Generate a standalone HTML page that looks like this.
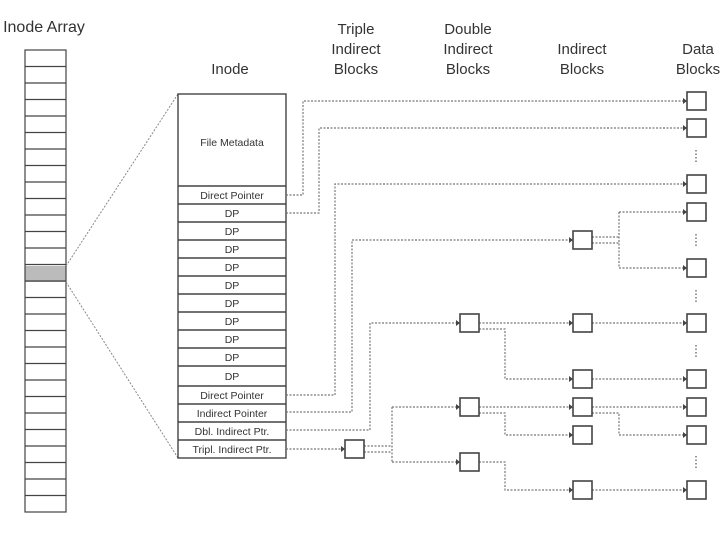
<!DOCTYPE html>
<html><head><style>body{margin:0;background:#fff}svg{display:block}</style></head><body>
<svg width="720" height="540" viewBox="0 0 720 540" xmlns="http://www.w3.org/2000/svg" font-family="Liberation Sans, sans-serif">
<rect width="720" height="540" fill="#fff"/>
<g fill="#333" font-size="15" text-anchor="middle">
<text x="44" y="32" font-size="16">Inode Array</text>
<text x="230" y="74">Inode</text>
<text x="356" y="34">Triple</text><text x="356" y="54">Indirect</text><text x="356" y="74">Blocks</text>
<text x="468" y="34">Double</text><text x="468" y="54">Indirect</text><text x="468" y="74">Blocks</text>
<text x="582" y="54">Indirect</text><text x="582" y="74">Blocks</text>
<text x="698" y="54">Data</text><text x="698" y="74">Blocks</text>
</g>
<g stroke="#444" stroke-width="1.2" fill="none">
<rect x="25" y="266" width="41" height="16" fill="#bbb" stroke="none"/>
<rect x="25" y="50" width="41" height="462"/>
<path d="M25 66.5H66M25 83H66M25 99.5H66M25 116H66M25 132.5H66M25 149H66M25 165.5H66M25 182H66M25 198.5H66M25 215H66M25 231.5H66M25 248H66M25 264.5H66M25 281H66M25 297.5H66M25 314H66M25 330.5H66M25 347H66M25 363.5H66M25 380H66M25 396.5H66M25 413H66M25 429.5H66M25 446H66M25 462.5H66M25 479H66M25 495.5H66"/>
</g>
<g stroke="#888" stroke-width="1" stroke-dasharray="2 1.5" fill="none">
<path d="M66 266L178 94M66 282L178 458"/>
</g>
<g stroke="#444" stroke-width="1.4" fill="none">
<rect x="178" y="94" width="108" height="364"/>
<path d="M178 186H286M178 204H286M178 222H286M178 240H286M178 258H286M178 276H286M178 294H286M178 312H286M178 330H286M178 348H286M178 366H286M178 386H286M178 404H286M178 422H286M178 440H286"/>
</g>
<g fill="#333" font-size="10.5" text-anchor="middle">
<text x="232" y="146">File Metadata</text>
<text x="232" y="199">Direct Pointer</text>
<text x="232" y="217">DP</text><text x="232" y="235">DP</text><text x="232" y="253">DP</text><text x="232" y="271">DP</text><text x="232" y="289">DP</text><text x="232" y="307">DP</text><text x="232" y="325">DP</text><text x="232" y="343">DP</text><text x="232" y="361">DP</text><text x="232" y="380">DP</text>
<text x="232" y="399">Direct Pointer</text>
<text x="232" y="417">Indirect Pointer</text>
<text x="232" y="435">Dbl. Indirect Ptr.</text>
<text x="232" y="453">Tripl. Indirect Ptr.</text>
</g>
<g stroke="#777" stroke-width="1.2" stroke-dasharray="2 1.5" fill="none">
<path d="M286 195H303V101H683"/>
<path d="M286 213H319V128H683"/>
<path d="M286 395H335V184H683"/>
<path d="M286 412H352V240H569"/>
<path d="M286 430H370V323H456"/>
<path d="M286 449H341"/>
<path d="M364 446H392M364 452H392M392 407V462M392 407H456M392 462H456"/>
<path d="M592 237H619M592 243H619M619 212V268M619 212H683M619 268H683"/>
<path d="M479 323H569M479 329H505V379H569M592 323H683M592 379H683"/>
<path d="M479 407H569M479 413H505V435H569M592 407H683M592 413H619V435H683"/>
<path d="M479 462H505V490H569M592 490H683"/>
</g>
<g fill="#444">
<path d="M683 98v6l4-3zM683 125v6l4-3zM683 181v6l4-3zM683 209v6l4-3zM683 265v6l4-3zM683 320v6l4-3zM683 376v6l4-3zM683 404v6l4-3zM683 432v6l4-3zM683 487v6l4-3z"/>
<path d="M569 237v6l4-3zM569 320v6l4-3zM569 376v6l4-3zM569 404v6l4-3zM569 432v6l4-3zM569 487v6l4-3z"/>
<path d="M456 320v6l4-3zM456 404v6l4-3zM456 459v6l4-3zM341 446v6l4-3z"/>
</g>
<g stroke="#444" stroke-width="1.6" fill="#fff">
<rect x="687" y="92" width="19" height="18"/><rect x="687" y="119" width="19" height="18"/><rect x="687" y="175" width="19" height="18"/><rect x="687" y="203" width="19" height="18"/><rect x="687" y="259" width="19" height="18"/><rect x="687" y="314" width="19" height="18"/><rect x="687" y="370" width="19" height="18"/><rect x="687" y="398" width="19" height="18"/><rect x="687" y="426" width="19" height="18"/><rect x="687" y="481" width="19" height="18"/>
<rect x="573" y="231" width="19" height="18"/><rect x="573" y="314" width="19" height="18"/><rect x="573" y="370" width="19" height="18"/><rect x="573" y="398" width="19" height="18"/><rect x="573" y="426" width="19" height="18"/><rect x="573" y="481" width="19" height="18"/>
<rect x="460" y="314" width="19" height="18"/><rect x="460" y="398" width="19" height="18"/><rect x="460" y="453" width="19" height="18"/>
<rect x="345" y="440" width="19" height="18"/>
</g>
<g stroke="#555" stroke-width="1.2" stroke-dasharray="1.5 2">
<path d="M696 150v12M696 234v12M696 290v12M696 345v12M696 456v12"/>
</g>
</svg>
</body></html>
